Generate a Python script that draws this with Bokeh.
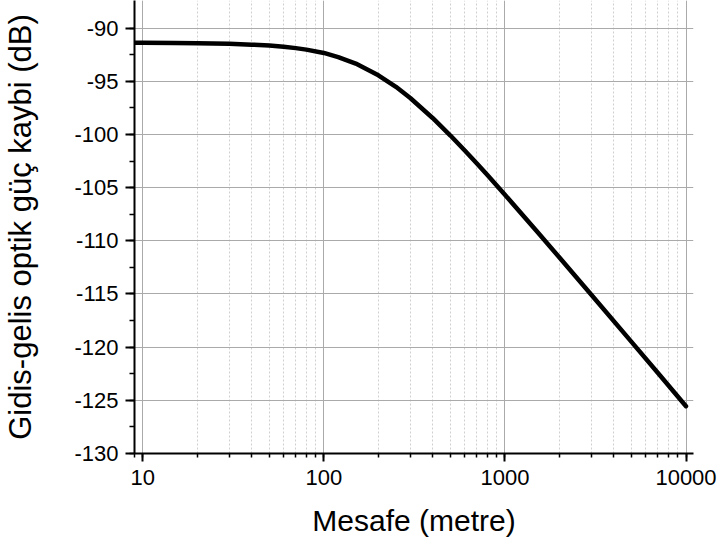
from bokeh.plotting import figure
from bokeh.models import Range1d, FixedTicker, PrintfTickFormatter
from bokeh.embed import file_html
from bokeh.resources import INLINE

# distance (m) and round-trip optical power loss (dB)
distance_m = [9, 10, 15, 20, 30, 40, 50, 60, 70, 80, 100, 120, 150, 200, 250, 300,
              400, 500, 600, 700, 800, 1000, 1500, 2000, 3000, 5000, 7000, 10000]
loss_db = [-91.38, -91.38, -91.40, -91.42, -91.47, -91.55, -91.64, -91.75, -91.88, -92.02,
           -92.33, -92.72, -93.33, -94.43, -95.52, -96.57, -98.47, -100.10, -101.50,
           -102.73, -103.82, -105.67, -109.10, -111.57, -115.07, -119.50, -122.43, -125.55]

x_tick_values = [10, 100, 1000, 10000]
y_tick_values = [-130, -125, -120, -115, -110, -105, -100, -95, -90]

font = "Liberation Sans"

p = figure(width=720, height=545, output_backend="svg", toolbar_location=None,
           x_axis_type="log",
           x_range=Range1d(9, 11000), y_range=Range1d(-130, -87.4),
           min_border_left=134, min_border_right=27, min_border_top=0, min_border_bottom=92)
p.outline_line_color = None
p.background_fill_color = "white"
p.border_fill_color = "white"

xax = p.xaxis[0]
yax = p.yaxis[0]

x_minor = [m * d for d in [1, 10, 100, 1000] for m in range(1, 10)] + [10000]
x_minor = [v for v in x_minor if v >= 9]
xax.ticker = FixedTicker(ticks=x_tick_values, minor_ticks=x_minor)
xax.formatter = PrintfTickFormatter(format="%d")
xax.axis_label = "Mesafe (metre)"

y_minor = [-130 + 2.5 * i for i in range(0, 17)]
yax.ticker = FixedTicker(ticks=y_tick_values, minor_ticks=y_minor)
yax.formatter = PrintfTickFormatter(format="%d")
yax.axis_label = "Gidis-gelis optik güç kaybi (dB)"

for ax in (xax, yax):
    ax.axis_line_color = "black"
    ax.axis_line_width = 2
    ax.major_tick_line_color = "black"
    ax.major_tick_line_width = 2
    ax.minor_tick_line_color = "black"
    ax.minor_tick_line_width = 1.5
    ax.major_tick_in = 0
    ax.minor_tick_in = 0
    ax.major_label_text_font = font
    ax.major_label_text_font_size = "22px"
    ax.major_label_text_color = "black"
    ax.axis_label_text_font = font
    ax.axis_label_text_font_size = "30px"
    ax.axis_label_text_font_style = "normal"
    ax.axis_label_text_color = "black"

yax.axis_label_text_font_size = "31px"

xax.major_tick_out = 8
xax.minor_tick_out = 4
xax.major_label_standoff = 8
xax.axis_label_standoff = 16
yax.major_tick_out = 9
yax.minor_tick_out = 5
yax.major_label_standoff = 7
yax.axis_label_standoff = 33

# grids
xg = p.xgrid[0]
xg.ticker = xax.ticker
xg.grid_line_color = "#aaaaaa"
xg.grid_line_width = 1
xg.minor_grid_line_color = "#cfcfcf"
xg.minor_grid_line_dash = "2 2"
xg.minor_grid_line_width = 1
yg = p.ygrid[0]
yg.ticker = FixedTicker(ticks=y_tick_values[1:])
yg.grid_line_color = "#aaaaaa"
yg.grid_line_width = 1

p.line(distance_m, loss_db, line_color="black", line_width=4.5, line_cap="round", line_join="round")

open("out.html", "w").write(file_html(p, INLINE))
